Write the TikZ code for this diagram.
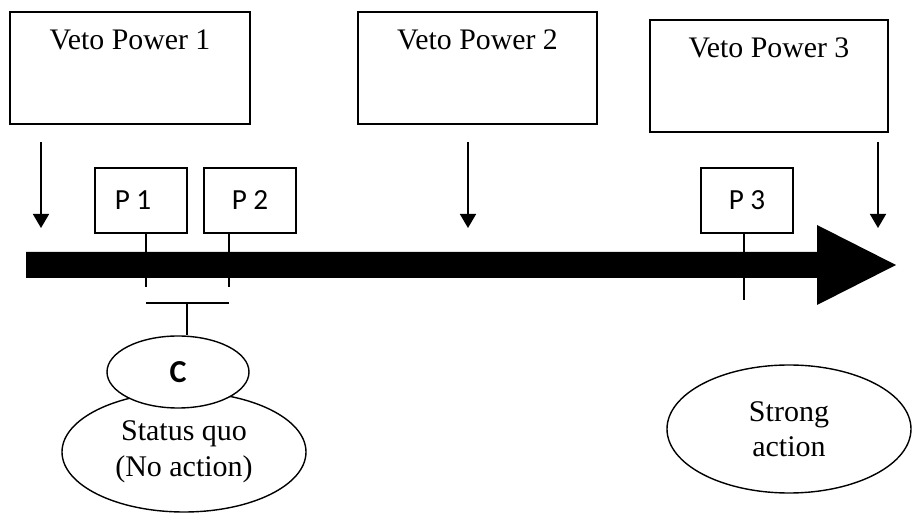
\documentclass[tikz,border=0pt]{standalone}
\usepackage{fontspec}
\setmainfont{Liberation Serif}
\newfontfamily\calib{Carlito}
\usetikzlibrary{arrows.meta,shapes.geometric}
\begin{document}
\begin{tikzpicture}[x=0.5pt,y=-0.5pt,
  vetobox/.style={draw, line width=0.75pt, minimum width=#1, minimum height=56pt, inner sep=0pt},
  vetotext/.style={anchor=base, font=\fontsize{14.9}{17}\selectfont, inner sep=0pt},
  pbox/.style={draw, line width=0.75pt, minimum width=46pt, minimum height=32.5pt, inner sep=0pt, font=\calib\fontsize{14.6}{17}\selectfont},
  tick/.style={line width=0.6pt},
  downarrow/.style={line width=0.8pt, -{Triangle[width=8pt,length=7pt]}},
  oval/.style={draw, ellipse, line width=0.7pt, inner sep=0pt, align=center, font=\fontsize{15}{17.5}\selectfont}]
\useasboundingbox (0,0) rectangle (912,513);

% Veto power boxes
\node[vetobox=120pt] (vp1) at (130,68) {};
\node[vetobox=119.5pt] (vp2) at (477.5,68) {};
\node[vetobox=119pt] (vp3) at (769,76) {};
\node[vetotext] (vp1t) at ([yshift=-19pt]vp1.north) {Veto Power 1};
\node[vetotext] (vp2t) at ([yshift=-19pt]vp2.north) {Veto Power 2};
\node[vetotext] (vp3t) at ([yshift=-19pt]vp3.north) {Veto Power 3};

% downward arrows
\coordinate (a1s) at (41,142);  \coordinate (a1e) at (41,228);
\coordinate (a2s) at (468,142); \coordinate (a2e) at (468,228);
\coordinate (a3s) at (878,142); \coordinate (a3e) at (878,228);
\draw[downarrow] (a1s) -- (a1e);
\draw[downarrow] (a2s) -- (a2e);
\draw[downarrow] (a3s) -- (a3e);

% big arrow
\fill (26,252) -- (817,252) -- (817,225) -- (896,265) -- (817,305) -- (817,278) -- (26,278) -- cycle;

% P boxes
\node[pbox] (p1) at (141,200.5) {P 1\hspace*{8pt}};
\node[pbox] (p2) at (250,200.5) {P 2};
\node[pbox] (p3) at (747,200.5) {P 3};
\draw[tick] ([xshift=2.5pt]p1.south) -- ++(0,53);
\draw[tick] ([xshift=-10.5pt]p2.south) -- ++(0,53);
\draw[tick] ([xshift=-1.5pt]p3.south) -- ++(0,66);

% bar and stem
\coordinate (bl) at (146,303);
\coordinate (br) at (229,303);
\coordinate (bm) at (187,303);
\draw[tick] (bl) -- (br);

% ellipses
\node[oval, minimum width=122pt, minimum height=60pt, font=\fontsize{15}{18}\selectfont] (sq) at (184,452) {Status quo\\(No action)};
\node[oval, fill=white, minimum width=71pt, minimum height=36pt, font=\calib\bfseries\fontsize{16}{18}\selectfont] (c) at (178,372) {C};
\draw[tick] (bm) -- (bm |- c.north);
\node[oval, minimum width=122pt, minimum height=64pt] (sa) at (789,429) {Strong\\action};
\end{tikzpicture}
\end{document}
